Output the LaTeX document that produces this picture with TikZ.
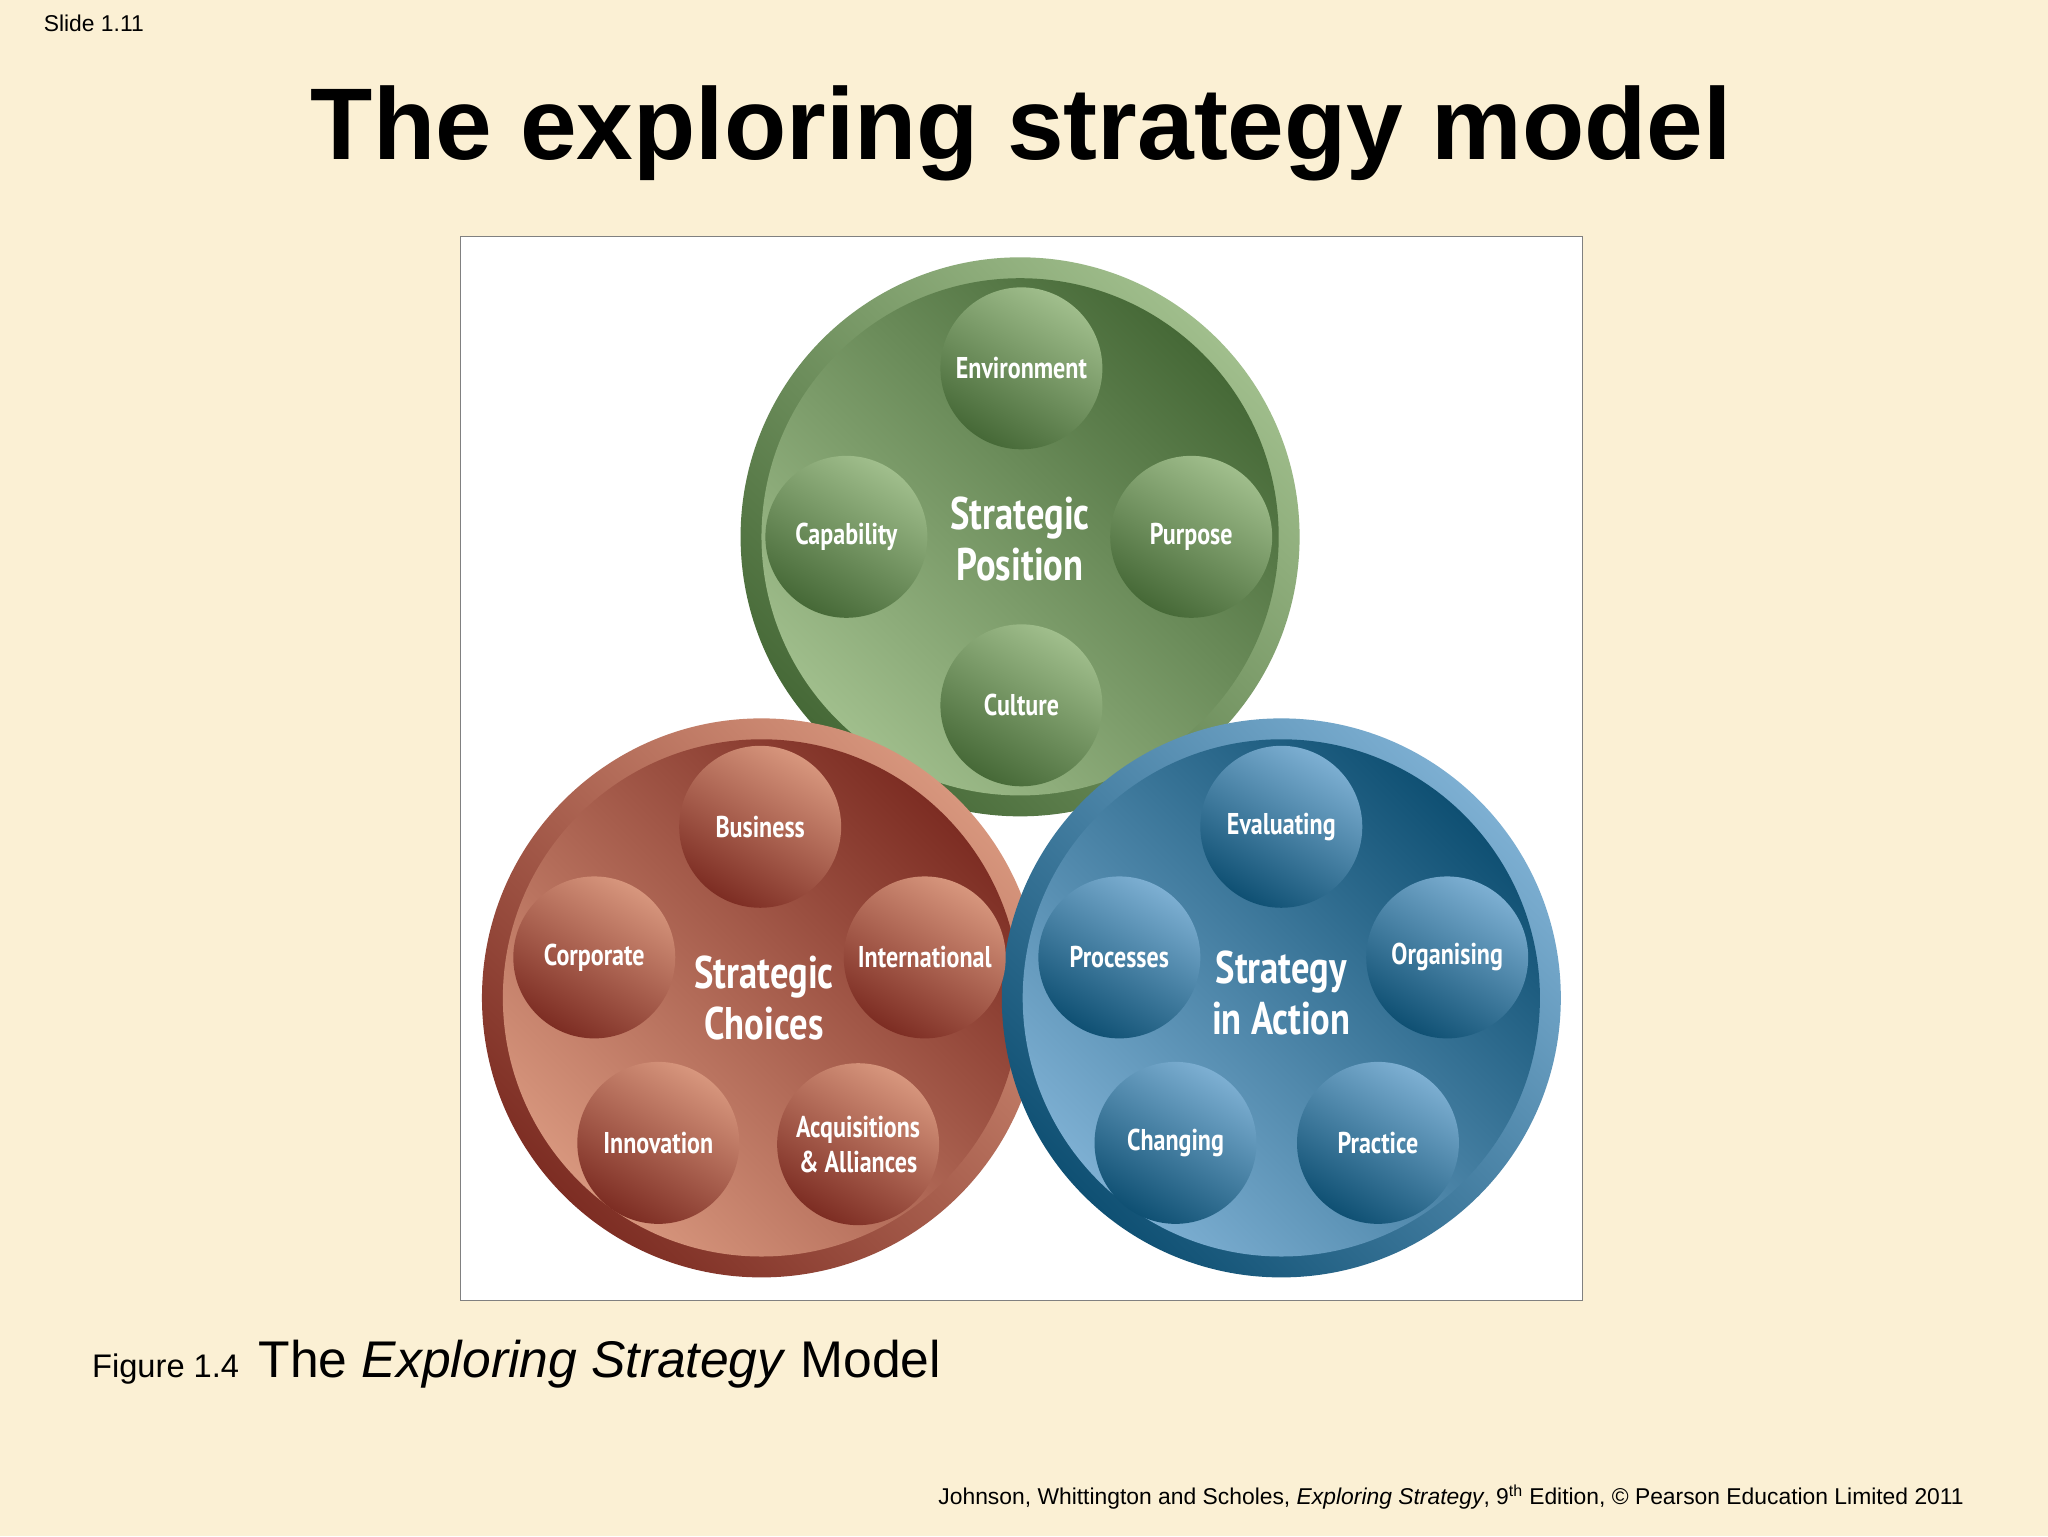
\documentclass[tikz,border=0pt]{standalone}
\usepackage{fontspec}
\setmainfont{Liberation Sans}
\newfontfamily\cond[FakeStretch=0.8]{PT Sans}
\begin{document}
\begin{tikzpicture}[x=1pt,y=-1pt,
  sm/.style={circle,minimum size=124pt,inner sep=0pt,text=white,font=\cond\bfseries\fontsize{23}{27}\selectfont,align=center},
  ctr/.style={text=white,font=\cond\bfseries\fontsize{35}{39}\selectfont,align=center}]
\fill[fill={rgb,255:red,251;green,240;blue,212}] (0,0) rectangle (1568,1176);
\useasboundingbox (0,0) rectangle (1568,1176);
\node[anchor=north west,font=\fontsize{17.5}{20}\selectfont] (sl) at (30,8) {Slide 1.11};
\node[font=\bfseries\fontsize{78}{90}\selectfont] (ti) at (782,102) {The exploring strategy model};
\node[draw=gray,fill=white,minimum width=859pt,minimum height=814pt,anchor=north west] (fr) at (352,181) {};
\definecolor{gL}{RGB}{160,190,140}\definecolor{gD}{RGB}{70,105,55}
\definecolor{rL}{RGB}{215,150,125}\definecolor{rD}{RGB}{125,45,35}
\definecolor{bL}{RGB}{125,175,210}\definecolor{bD}{RGB}{15,80,115}
\newcommand{\bigc}[4]{%
  \shade[left color=#3,right color=#4,shading angle=-45] (#1,#2) circle (214);
  \shade[left color=#4,right color=#3,shading angle=-45] (#1,#2) circle (198);}
\bigc{781}{411}{gL}{gD}
\bigc{583}{764}{rL}{rD}
\bigc{981}{764}{bL}{bD}
\tikzset{gs/.style={sm,top color=gL,bottom color=gD,shading angle=-30},
 rs/.style={sm,top color=rL,bottom color=rD,shading angle=-30},
 bs/.style={sm,top color=bL,bottom color=bD,shading angle=-30}}
\node[gs] (env) at (782,282) {Environment};
\node[gs] (cap) at (648,411) {Capability};
\node[gs] (pur) at (912,411) {Purpose};
\node[gs] (cul) at (782,540) {Culture};
\node[ctr] (sp) at (781,413) {Strategic\\Position};
\node[rs] (bus) at (582,633) {Business};
\node[rs] (cor) at (455,733) {Corporate};
\node[rs] (int) at (708,733) {International};
\node[rs] (inn) at (504,875) {Innovation};
\node[rs] (acq) at (657,876) {Acquisitions\\\& Alliances};
\node[ctr] (sc) at (585,764) {Strategic\\Choices};
\node[bs] (eva) at (981,633) {Evaluating};
\node[bs] (pro) at (857,733) {Processes};
\node[bs] (org) at (1108,733) {Organising};
\node[bs] (cha) at (900,875) {Changing};
\node[bs] (pra) at (1055,875) {Practice};
\node[ctr] (sa) at (981,760) {Strategy\\in Action};
\node[anchor=base west] (cap1) at (67,1055) {\fontsize{25}{30}\selectfont Figure 1.4\hspace{0.6em}\fontsize{39.5}{45}\selectfont The \textit{Exploring Strategy} Model};
\node[anchor=base east,font=\fontsize{17.5}{20}\selectfont] (ft) at (1507,1152) {Johnson, Whittington and Scholes, \textit{Exploring Strategy}, 9\textsuperscript{th} Edition, © Pearson Education Limited 2011};
\end{tikzpicture}
\end{document}
